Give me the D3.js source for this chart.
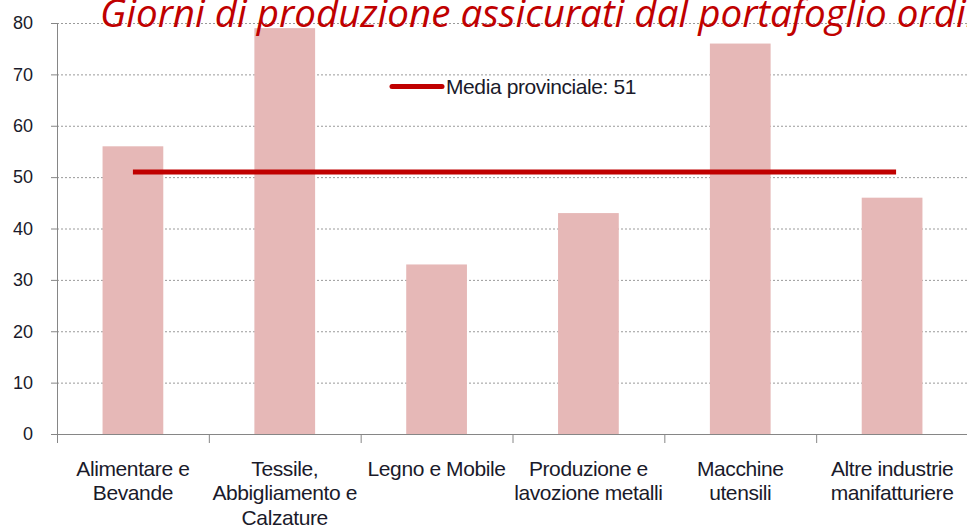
<!DOCTYPE html>
<html><head><meta charset="utf-8">
<script src="https://cdn.jsdelivr.net/npm/d3@7/dist/d3.min.js"></script>
<style>html,body{margin:0;padding:0;background:#fff;overflow:hidden}</style>
</head><body>
<svg id="c" width="967" height="528"></svg>
<script>
const categories = [
  ["Alimentare e","Bevande"],
  ["Tessile,","Abbigliamento e","Calzature"],
  ["Legno e Mobile"],
  ["Produzione e","lavozione metalli"],
  ["Macchine","utensili"],
  ["Altre industrie","manifatturiere"]
];
const values = [56, 79, 33, 43, 76, 46];
const mediaValue = 51;
const mediaLabel = "Media provinciale: 51";
const yTicks = [0,10,20,30,40,50,60,70,80];
const titleText = "Giorni di produzione assicurati dal portafoglio ordini";

const FONT = "Liberation Sans, Arial, sans-serif";
const TXT = "#1a1a2a";
const svg = d3.select("#c");
const x0 = 57, x1 = 968, yTop = 23, yBot = 434;
const ids = categories.map((d,i)=>i);
const x = d3.scaleBand().domain(ids).range([x0,x1]).paddingInner(0.6).paddingOuter(0.3);
const xb = d3.scaleBand().domain(ids).range([x0,x1]).padding(0);
const y = d3.scaleLinear().domain([0,80]).range([yBot,yTop]);

// gridlines
svg.append("g").selectAll("line").data(yTicks.filter(t=>t>0)).join("line")
  .attr("x1",x0).attr("x2",967).attr("y1",d=>y(d)+0.5).attr("y2",d=>y(d)+0.5)
  .attr("stroke","#9a9a9a").attr("stroke-width",1).attr("stroke-dasharray","2,2");

// bars
svg.append("g").selectAll("rect").data(values).join("rect")
  .attr("x",(d,i)=>x(i)).attr("width",x.bandwidth())
  .attr("y",d=>y(d)).attr("height",d=>y(0)-y(d))
  .attr("fill","#E6B8B7");

// y axis
const yAxis = d3.axisLeft(y).tickValues(yTicks).tickSize(6).tickPadding(18).tickFormat(d3.format("d"));
const gy = svg.append("g").attr("transform",`translate(${x0},0)`).call(yAxis);
gy.select(".domain").attr("stroke","#868686");
gy.selectAll(".tick line").attr("stroke","#868686");
gy.selectAll("text").attr("font-family",FONT).attr("font-size","18px").attr("fill",TXT);

// x axis
const xAxis = d3.axisBottom(xb).tickSize(0).tickFormat("");
const gx = svg.append("g").attr("transform",`translate(0,${yBot})`).call(xAxis);
gx.select(".domain").attr("stroke","#868686").attr("d",`M${x0},0.5H${x1}`);
gx.selectAll(".tick").remove();
gx.selectAll("line.bnd").data(ids).join("line").attr("class","bnd")
  .attr("x1",d=>xb(d)+0.5).attr("x2",d=>xb(d)+0.5).attr("y1",0).attr("y2",9)
  .attr("stroke","#868686");

// x labels
const lab = svg.append("g");
categories.forEach((lines,i)=>{
  const t = lab.append("text").attr("text-anchor","middle")
    .attr("font-family",FONT).attr("font-size","21px").attr("letter-spacing","-0.4px").attr("fill",TXT);
  lines.forEach((ln,j)=>{
    t.append("tspan").attr("x",xb(i)+xb.bandwidth()/2).attr("y",475.5+j*24.5).text(ln);
  });
});

// mean line
svg.append("line").attr("x1",x(0)+x.bandwidth()/2).attr("x2",x(5)+x.bandwidth()/2+4)
  .attr("y1",y(mediaValue)).attr("y2",y(mediaValue))
  .attr("stroke","#C00000").attr("stroke-width",5);

// legend
svg.append("line").attr("x1",392).attr("x2",442).attr("y1",86.5).attr("y2",86.5)
  .attr("stroke","#C00000").attr("stroke-width",5).attr("stroke-linecap","round");
svg.append("text").attr("x",446).attr("y",93.5)
  .attr("font-family",FONT).attr("font-size","21px").attr("letter-spacing","-0.4px").attr("fill",TXT)
  .text(mediaLabel);

// title
const tt = svg.append("text").attr("x",100).attr("y",27)
  .attr("font-family","Open Sans, sans-serif").attr("font-style","italic").attr("font-size","30px")
  .attr("fill","#C00000").text(titleText);
const probe = svg.append("text").attr("font-family","Open Sans, sans-serif").attr("font-style","italic").attr("font-size","30px")
  .text("Giorni di produzione assicurati dal portafoglio ordi");
const w = probe.node().getComputedTextLength();
probe.remove();
tt.attr("font-size",(30*866/w).toFixed(2)+"px");
</script>
</body></html>
